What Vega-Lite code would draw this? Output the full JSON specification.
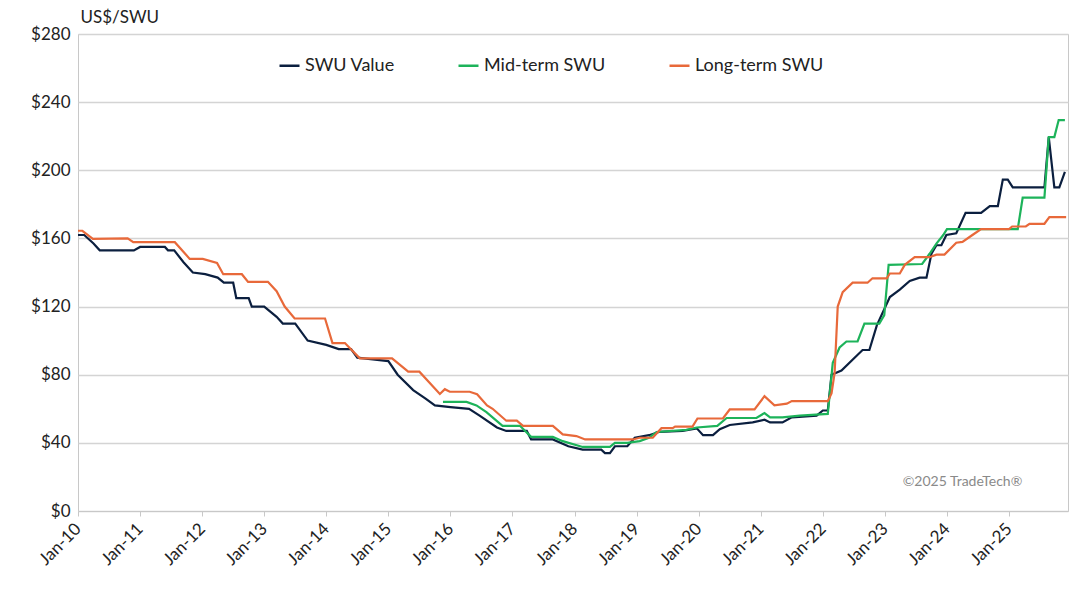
{
  "$schema": "https://vega.github.io/schema/vega-lite/v6.json",
  "width": 990,
  "height": 477,
  "autosize": "none",
  "padding": {"left": 78, "top": 34, "right": 17, "bottom": 83},
  "background": "white",
  "config": {
    "font": "Lato",
    "view": {"stroke": "#c8c8c8"},
    "axis": {"labelFont": "Lato", "labelFontSize": 17, "labelColor": "#222", "titleFont": "Lato"}
  },
  "layer": [
    {
      "data": {"values": [
        {"d":2010.0,"s":"SWU Value","v":162},{"d":2010.1,"s":"SWU Value","v":162},{"d":2010.25,"s":"SWU Value","v":157},{"d":2010.35,"s":"SWU Value","v":153},{"d":2010.9,"s":"SWU Value","v":153},{"d":2011.0,"s":"SWU Value","v":155},{"d":2011.4,"s":"SWU Value","v":155},{"d":2011.45,"s":"SWU Value","v":153},{"d":2011.55,"s":"SWU Value","v":153},{"d":2011.7,"s":"SWU Value","v":146},{"d":2011.85,"s":"SWU Value","v":140},{"d":2012.05,"s":"SWU Value","v":139},{"d":2012.25,"s":"SWU Value","v":137},{"d":2012.35,"s":"SWU Value","v":134},{"d":2012.5,"s":"SWU Value","v":134},{"d":2012.55,"s":"SWU Value","v":125},{"d":2012.75,"s":"SWU Value","v":125},{"d":2012.8,"s":"SWU Value","v":120},{"d":2013.0,"s":"SWU Value","v":120},{"d":2013.2,"s":"SWU Value","v":114},{"d":2013.3,"s":"SWU Value","v":110},{"d":2013.5,"s":"SWU Value","v":110},{"d":2013.7,"s":"SWU Value","v":100},{"d":2014.0,"s":"SWU Value","v":97.5},{"d":2014.2,"s":"SWU Value","v":95},{"d":2014.4,"s":"SWU Value","v":95},{"d":2014.5,"s":"SWU Value","v":90},{"d":2014.75,"s":"SWU Value","v":89},{"d":2015.0,"s":"SWU Value","v":88},{"d":2015.15,"s":"SWU Value","v":80},{"d":2015.4,"s":"SWU Value","v":71},{"d":2015.6,"s":"SWU Value","v":66},{"d":2015.75,"s":"SWU Value","v":62},{"d":2016.0,"s":"SWU Value","v":61},{"d":2016.3,"s":"SWU Value","v":60},{"d":2016.47,"s":"SWU Value","v":56},{"d":2016.75,"s":"SWU Value","v":49},{"d":2016.9,"s":"SWU Value","v":47},{"d":2017.23,"s":"SWU Value","v":47},{"d":2017.3,"s":"SWU Value","v":42},{"d":2017.65,"s":"SWU Value","v":42},{"d":2017.9,"s":"SWU Value","v":38},{"d":2018.13,"s":"SWU Value","v":36},{"d":2018.43,"s":"SWU Value","v":36},{"d":2018.49,"s":"SWU Value","v":34},{"d":2018.57,"s":"SWU Value","v":34},{"d":2018.65,"s":"SWU Value","v":38},{"d":2018.85,"s":"SWU Value","v":38},{"d":2018.97,"s":"SWU Value","v":43},{"d":2019.2,"s":"SWU Value","v":44.5},{"d":2019.37,"s":"SWU Value","v":46.5},{"d":2019.74,"s":"SWU Value","v":47},{"d":2019.97,"s":"SWU Value","v":48.5},{"d":2020.07,"s":"SWU Value","v":44.5},{"d":2020.23,"s":"SWU Value","v":44.5},{"d":2020.34,"s":"SWU Value","v":48},{"d":2020.5,"s":"SWU Value","v":50.5},{"d":2020.87,"s":"SWU Value","v":52},{"d":2021.06,"s":"SWU Value","v":53.6},{"d":2021.15,"s":"SWU Value","v":52},{"d":2021.35,"s":"SWU Value","v":52},{"d":2021.5,"s":"SWU Value","v":55},{"d":2021.9,"s":"SWU Value","v":56},{"d":2022.0,"s":"SWU Value","v":59},{"d":2022.08,"s":"SWU Value","v":59},{"d":2022.14,"s":"SWU Value","v":80},{"d":2022.3,"s":"SWU Value","v":82.5},{"d":2022.64,"s":"SWU Value","v":94.5},{"d":2022.75,"s":"SWU Value","v":94.5},{"d":2022.87,"s":"SWU Value","v":109},{"d":2023.08,"s":"SWU Value","v":125.6},{"d":2023.24,"s":"SWU Value","v":130},{"d":2023.4,"s":"SWU Value","v":135},{"d":2023.56,"s":"SWU Value","v":137},{"d":2023.67,"s":"SWU Value","v":137},{"d":2023.75,"s":"SWU Value","v":151},{"d":2023.83,"s":"SWU Value","v":156},{"d":2023.91,"s":"SWU Value","v":156},{"d":2023.99,"s":"SWU Value","v":162},{"d":2024.15,"s":"SWU Value","v":163},{"d":2024.3,"s":"SWU Value","v":175},{"d":2024.55,"s":"SWU Value","v":175},{"d":2024.69,"s":"SWU Value","v":179},{"d":2024.82,"s":"SWU Value","v":179},{"d":2024.9,"s":"SWU Value","v":194.5},{"d":2024.98,"s":"SWU Value","v":194.5},{"d":2025.06,"s":"SWU Value","v":190},{"d":2025.57,"s":"SWU Value","v":190},{"d":2025.64,"s":"SWU Value","v":219.5},{"d":2025.73,"s":"SWU Value","v":190},{"d":2025.81,"s":"SWU Value","v":190},{"d":2025.9,"s":"SWU Value","v":199},

        {"d":2015.88,"s":"Mid-term SWU","v":64},{"d":2016.26,"s":"Mid-term SWU","v":64},{"d":2016.42,"s":"Mid-term SWU","v":62},{"d":2016.58,"s":"Mid-term SWU","v":58},{"d":2016.84,"s":"Mid-term SWU","v":50},{"d":2017.12,"s":"Mid-term SWU","v":50},{"d":2017.3,"s":"Mid-term SWU","v":43.5},{"d":2017.65,"s":"Mid-term SWU","v":43.5},{"d":2017.81,"s":"Mid-term SWU","v":41},{"d":2018.13,"s":"Mid-term SWU","v":37.6},{"d":2018.57,"s":"Mid-term SWU","v":37.6},{"d":2018.65,"s":"Mid-term SWU","v":40},{"d":2018.85,"s":"Mid-term SWU","v":40},{"d":2019.05,"s":"Mid-term SWU","v":41},{"d":2019.2,"s":"Mid-term SWU","v":43},{"d":2019.32,"s":"Mid-term SWU","v":46.4},{"d":2019.8,"s":"Mid-term SWU","v":47.6},{"d":2019.97,"s":"Mid-term SWU","v":49},{"d":2020.3,"s":"Mid-term SWU","v":50},{"d":2020.45,"s":"Mid-term SWU","v":54.6},{"d":2020.93,"s":"Mid-term SWU","v":54.6},{"d":2021.06,"s":"Mid-term SWU","v":57.5},{"d":2021.15,"s":"Mid-term SWU","v":55},{"d":2021.35,"s":"Mid-term SWU","v":55},{"d":2021.63,"s":"Mid-term SWU","v":56},{"d":2022.08,"s":"Mid-term SWU","v":57},{"d":2022.16,"s":"Mid-term SWU","v":87},{"d":2022.27,"s":"Mid-term SWU","v":96},{"d":2022.38,"s":"Mid-term SWU","v":99.5},{"d":2022.56,"s":"Mid-term SWU","v":99.5},{"d":2022.67,"s":"Mid-term SWU","v":110},{"d":2022.91,"s":"Mid-term SWU","v":110},{"d":2022.99,"s":"Mid-term SWU","v":115},{"d":2023.06,"s":"Mid-term SWU","v":144.5},{"d":2023.6,"s":"Mid-term SWU","v":145},{"d":2023.72,"s":"Mid-term SWU","v":151},{"d":2023.83,"s":"Mid-term SWU","v":157},{"d":2023.94,"s":"Mid-term SWU","v":162},{"d":2024.0,"s":"Mid-term SWU","v":165.5},{"d":2025.14,"s":"Mid-term SWU","v":165.5},{"d":2025.22,"s":"Mid-term SWU","v":184},{"d":2025.57,"s":"Mid-term SWU","v":184},{"d":2025.64,"s":"Mid-term SWU","v":219.5},{"d":2025.73,"s":"Mid-term SWU","v":219.5},{"d":2025.8,"s":"Mid-term SWU","v":229.5},{"d":2025.9,"s":"Mid-term SWU","v":229.5},

        {"d":2010.0,"s":"Long-term SWU","v":164.5},{"d":2010.07,"s":"Long-term SWU","v":164.5},{"d":2010.24,"s":"Long-term SWU","v":159.7},{"d":2010.8,"s":"Long-term SWU","v":160},{"d":2010.89,"s":"Long-term SWU","v":157.8},{"d":2011.56,"s":"Long-term SWU","v":157.8},{"d":2011.8,"s":"Long-term SWU","v":148},{"d":2012.01,"s":"Long-term SWU","v":148},{"d":2012.24,"s":"Long-term SWU","v":145.6},{"d":2012.34,"s":"Long-term SWU","v":139},{"d":2012.64,"s":"Long-term SWU","v":139},{"d":2012.74,"s":"Long-term SWU","v":134.5},{"d":2013.06,"s":"Long-term SWU","v":134.5},{"d":2013.2,"s":"Long-term SWU","v":129},{"d":2013.33,"s":"Long-term SWU","v":120},{"d":2013.49,"s":"Long-term SWU","v":113},{"d":2013.98,"s":"Long-term SWU","v":113},{"d":2014.1,"s":"Long-term SWU","v":98.6},{"d":2014.3,"s":"Long-term SWU","v":98.6},{"d":2014.54,"s":"Long-term SWU","v":89.6},{"d":2015.06,"s":"Long-term SWU","v":89.6},{"d":2015.32,"s":"Long-term SWU","v":81.8},{"d":2015.5,"s":"Long-term SWU","v":81.8},{"d":2015.83,"s":"Long-term SWU","v":68.7},{"d":2015.91,"s":"Long-term SWU","v":71.5},{"d":2015.99,"s":"Long-term SWU","v":70},{"d":2016.31,"s":"Long-term SWU","v":70},{"d":2016.43,"s":"Long-term SWU","v":68.5},{"d":2016.59,"s":"Long-term SWU","v":62},{"d":2016.68,"s":"Long-term SWU","v":60},{"d":2016.9,"s":"Long-term SWU","v":53},{"d":2017.07,"s":"Long-term SWU","v":53},{"d":2017.17,"s":"Long-term SWU","v":50},{"d":2017.65,"s":"Long-term SWU","v":50},{"d":2017.81,"s":"Long-term SWU","v":45},{"d":2018.03,"s":"Long-term SWU","v":44},{"d":2018.17,"s":"Long-term SWU","v":42},{"d":2018.94,"s":"Long-term SWU","v":42},{"d":2019.05,"s":"Long-term SWU","v":43},{"d":2019.26,"s":"Long-term SWU","v":43},{"d":2019.4,"s":"Long-term SWU","v":48.6},{"d":2019.58,"s":"Long-term SWU","v":48.6},{"d":2019.62,"s":"Long-term SWU","v":49.5},{"d":2019.9,"s":"Long-term SWU","v":49.5},{"d":2019.98,"s":"Long-term SWU","v":54.3},{"d":2020.39,"s":"Long-term SWU","v":54.3},{"d":2020.5,"s":"Long-term SWU","v":59.6},{"d":2020.9,"s":"Long-term SWU","v":59.6},{"d":2021.06,"s":"Long-term SWU","v":67.4},{"d":2021.22,"s":"Long-term SWU","v":62},{"d":2021.42,"s":"Long-term SWU","v":63},{"d":2021.5,"s":"Long-term SWU","v":64.5},{"d":2022.08,"s":"Long-term SWU","v":64.5},{"d":2022.14,"s":"Long-term SWU","v":69},{"d":2022.19,"s":"Long-term SWU","v":81},{"d":2022.24,"s":"Long-term SWU","v":120},{"d":2022.32,"s":"Long-term SWU","v":128.5},{"d":2022.48,"s":"Long-term SWU","v":134},{"d":2022.72,"s":"Long-term SWU","v":134},{"d":2022.8,"s":"Long-term SWU","v":136.6},{"d":2023.03,"s":"Long-term SWU","v":136.6},{"d":2023.08,"s":"Long-term SWU","v":139.4},{"d":2023.24,"s":"Long-term SWU","v":139.4},{"d":2023.32,"s":"Long-term SWU","v":144.5},{"d":2023.48,"s":"Long-term SWU","v":149},{"d":2023.72,"s":"Long-term SWU","v":149},{"d":2023.83,"s":"Long-term SWU","v":150.5},{"d":2023.96,"s":"Long-term SWU","v":150.5},{"d":2024.15,"s":"Long-term SWU","v":157.5},{"d":2024.25,"s":"Long-term SWU","v":158},{"d":2024.41,"s":"Long-term SWU","v":162},{"d":2024.55,"s":"Long-term SWU","v":165.5},{"d":2025.0,"s":"Long-term SWU","v":165.5},{"d":2025.05,"s":"Long-term SWU","v":167},{"d":2025.27,"s":"Long-term SWU","v":167},{"d":2025.33,"s":"Long-term SWU","v":168.6},{"d":2025.57,"s":"Long-term SWU","v":168.6},{"d":2025.65,"s":"Long-term SWU","v":172.5},{"d":2025.92,"s":"Long-term SWU","v":172.5}
      ]},
      "mark": {"type": "line", "strokeWidth": 2.2},
      "encoding": {
        "x": {
          "field": "d", "type": "quantitative",
          "scale": {"domain": [2010, 2025.95], "nice": false, "zero": false},
          "axis": {
            "title": null, "grid": false, "values": [2010,2011,2012,2013,2014,2015,2016,2017,2018,2019,2020,2021,2022,2023,2024,2025],
            "labelExpr": "'Jan-' + substring(toString(datum.value), 2, 4)",
            "labelAngle": -45, "labelAlign": "right", "labelBaseline": "middle", "labelPadding": 10,
            "tickSize": 5, "tickColor": "#c8c8c8", "domainColor": "#c8c8c8"
          }
        },
        "y": {
          "field": "v", "type": "quantitative",
          "scale": {"domain": [0, 280], "nice": false},
          "axis": {
            "values": [0,40,80,120,160,200,240,280], "format": "$,.0f",
            "title": "US$/SWU", "titleAngle": 0, "titleAlign": "left", "titleBaseline": "bottom",
            "titleX": 2, "titleY": -8, "titleFontSize": 17, "titleFontWeight": "normal", "titleColor": "#222",
            "ticks": false, "domain": false, "labelPadding": 8,
            "gridColor": "#d4d4d4", "gridWidth": 1.3
          }
        },
        "color": {
          "field": "s", "type": "nominal",
          "scale": {"domain": ["SWU Value", "Mid-term SWU", "Long-term SWU"], "range": ["#0b1f3f", "#1db35a", "#e8693a"]},
          "legend": {
            "title": null, "orient": "none", "direction": "horizontal",
            "legendX": 200, "legendY": 20, "symbolType": "stroke", "symbolStrokeWidth": 2.5, "symbolSize": 400,
            "labelFontSize": 18, "labelFont": "Lato", "labelColor": "#222", "columnPadding": 58, "labelOffset": 4
          }
        }
      }
    },
    {
      "data": {"values": [{"d": 2024.25, "v": 17, "t": "©2025 TradeTech®"}]},
      "mark": {"type": "text", "fontSize": 14, "color": "#8a8a8a", "align": "center"},
      "encoding": {
        "x": {"field": "d", "type": "quantitative"},
        "y": {"field": "v", "type": "quantitative"},
        "text": {"field": "t"}
      }
    }
  ]
}
